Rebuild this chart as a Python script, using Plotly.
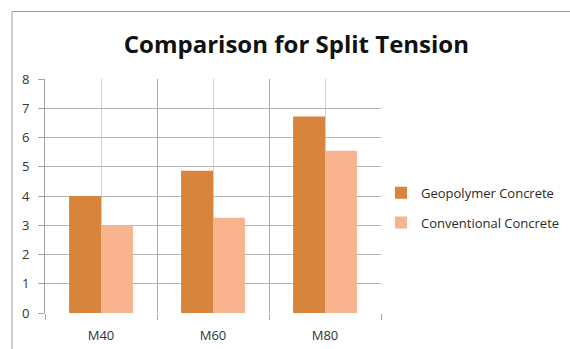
import plotly.graph_objects as go

categories = ["M40", "M60", "M80"]
geopolymer = [4.0, 4.86, 6.72]
conventional = [3.0, 3.26, 5.55]
y_ticks = [0, 1, 2, 3, 4, 5, 6, 7, 8]

idx = list(range(len(categories)))

fig = go.Figure()
fig.add_trace(go.Bar(x=idx, y=geopolymer, name="Geopolymer Concrete",
                     marker=dict(color="#d9843c", line=dict(width=0)), legendgroup="a"))
fig.add_trace(go.Bar(x=idx, y=conventional, name="Conventional Concrete",
                     marker=dict(color="#f8b48e", line=dict(width=0)), legendgroup="b"))

fig.update_layout(
    width=570, height=349,
    margin=dict(l=45, r=189, t=79, b=36, autoexpand=False),
    paper_bgcolor="white", plot_bgcolor="white",
    barmode="group", bargap=0.43, bargroupgap=0,
    font=dict(family="Open Sans", color="#333333", size=13),
    title=dict(text="<b>Comparison for Split Tension</b>",
               font=dict(family="Open Sans", size=24, color="#111111"),
               x=0.52, xanchor="center", y=1 - 45 / 349, yanchor="middle"),
    legend=dict(x=1.0, xanchor="left", y=0.45, yanchor="middle",
                font=dict(size=13, color="#2a2a2a"), tracegroupgap=10,
                traceorder="grouped"),
    xaxis=dict(range=[-0.5, len(categories) - 0.5], tickvals=idx, ticktext=categories,
               showgrid=True, gridcolor="#d0d0d0", gridwidth=1, zeroline=False,
               showline=False, ticks="", ticklabelstandoff=13, automargin=False,
               minor=dict(tickvals=[i - 0.5 for i in range(len(categories) + 1)],
                          showgrid=True, gridcolor="#a8a8a8", gridwidth=1,
                          ticks="outside", ticklen=6, tickcolor="#a8a8a8"),
               tickfont=dict(size=13, color="#333333")),
    yaxis=dict(range=[0, 8], tickvals=y_ticks, showgrid=True, gridcolor="#b4b4b4",
               gridwidth=1, zeroline=False, showline=True, linecolor="#a0a0a0",
               ticks="outside", ticklen=6, tickcolor="#a0a0a0", ticklabelstandoff=6,
               automargin=False, tickfont=dict(size=13, color="#333333")),
)

fig.add_shape(type="rect", xref="paper", yref="paper",
              x0=(12 - 45) / 336, x1=(580 - 45) / 336,
              y0=(313 - 360) / 234, y1=(313 - 11.5) / 234,
              line=dict(color="#a0a0a0", width=1), fillcolor="rgba(0,0,0,0)", layer="below")

fig.write_html("out.html", config={"displayModeBar": False},
               post_script="document.body.style.margin='0';")
